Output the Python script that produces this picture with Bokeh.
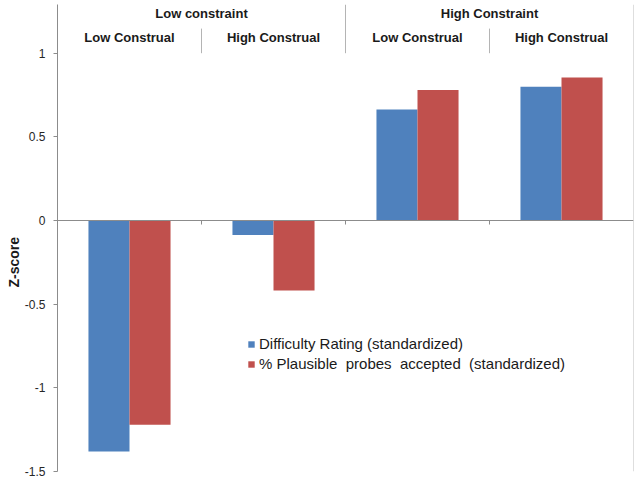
import math
from bokeh.plotting import figure
from bokeh.models import (ColumnDataSource, Range1d, FixedTicker, Span, Title,
                          Legend, LegendItem)
from bokeh.core.properties import value
from bokeh.embed import file_html
from bokeh.resources import INLINE

# ---- data ----
constraints = ["Low constraint", "High Constraint"]
construals = ["Low Construal", "High Construal", "Low Construal", "High Construal"]
difficulty = [-1.38, -0.086, 0.663, 0.80]
plausible = [-1.22, -0.418, 0.78, 0.855]
series_names = ["Difficulty Rating (standardized)",
                "% Plausible  probes  accepted  (standardized)"]
y_ticks = [-1.5, -1.0, -0.5, 0.0, 0.5, 1.0]
y_tick_labels = ["-1.5", "-1", "-0.5", "0", "0.5", "1"]

BLUE = "#4F81BD"
RED = "#C0504D"
GRID = "#8c8c8c"
SEP = "#b4b4b4"
FONT = "Liberation Sans"
Y_TOP = 1.291

n = len(construals)
centers = [i + 0.5 for i in range(n)]
bar_w = 0.285

src = ColumnDataSource(dict(
    xb=[c - 0.1425 for c in centers],
    xr=[c + 0.1425 for c in centers],
    diff=difficulty,
    plaus=plausible,
))

p = figure(width=638, height=485, x_range=Range1d(0, n), y_range=Range1d(-1.5, Y_TOP),
           output_backend="svg", toolbar_location=None, x_axis_location=None,
           min_border_left=57, min_border_right=5, min_border_top=4, min_border_bottom=14)
p.outline_line_color = None
p.grid.visible = False
p.background_fill_color = "white"
p.border_fill_color = "white"

# y axis
yax = p.yaxis[0]
yax.ticker = FixedTicker(ticks=y_ticks)
yax.major_label_overrides = {t: l for t, l in zip(y_ticks, y_tick_labels)}
yax.major_tick_out = 4
yax.major_tick_in = 0
yax.minor_tick_out = 0
yax.minor_tick_in = 0
yax.axis_line_color = GRID
yax.major_tick_line_color = GRID
yax.major_label_text_font = FONT
yax.major_label_text_font_size = "12px"
yax.major_label_text_color = "#262626"
yax.major_label_standoff = 8

# y axis title as a left-side title
p.add_layout(Title(text="Z-score", align="left", offset=184,
                   text_font=FONT, text_font_size="14px", text_font_style="bold",
                   text_color="#1a1a1a", standoff=0), "left")

# zero line
p.add_layout(Span(location=0, dimension="width", line_color=GRID, line_width=1))

# small category ticks on zero line
p.segment(x0=list(range(1, n)), y0=[0] * (n - 1), x1=list(range(1, n)),
          y1=[-0.024] * (n - 1), line_color=GRID, line_width=1)

rb = p.vbar(x="xb", top="diff", bottom=0, width=bar_w, source=src,
            fill_color=BLUE, line_color=None)
rr = p.vbar(x="xr", top="plaus", bottom=0, width=bar_w, source=src,
            fill_color=RED, line_color=None)

# header separators
p.segment(x0=[2], y0=[1.0], x1=[2], y1=[Y_TOP], line_color=SEP, line_width=1)
p.segment(x0=[1, 3], y0=[1.0, 1.0], x1=[1, 3], y1=[1.147, 1.147],
          line_color=SEP, line_width=1)
# right edge of plot area
p.segment(x0=[n], y0=[-1.5], x1=[n], y1=[Y_TOP], line_color="#bdbdbd", line_width=1)

# header texts
p.text(x=[1, 3], y=[1.236, 1.236], text=constraints, text_font=value(FONT),
       text_font_size="13px", text_font_style="bold", text_align="center",
       text_baseline="middle", text_color="#1a1a1a")
p.text(x=centers, y=[1.094] * n, text=construals, text_font=value(FONT),
       text_font_size="13px", text_font_style="bold", text_align="center",
       text_baseline="middle", text_color="#1a1a1a")

legend = Legend(items=[LegendItem(label=series_names[0], renderers=[rb]),
                       LegendItem(label=series_names[1], renderers=[rr])],
                location=(190, 99), orientation="vertical")
legend.border_line_color = None
legend.background_fill_alpha = 0
legend.padding = 0
legend.margin = 0
legend.spacing = 3
legend.glyph_width = 8
legend.glyph_height = 8
legend.label_height = 16
legend.label_standoff = 4
legend.label_text_font = FONT
legend.label_text_font_size = "15px"
legend.label_text_color = "#1a1a1a"
p.add_layout(legend)

open("out.html", "w").write(file_html(p, INLINE))
